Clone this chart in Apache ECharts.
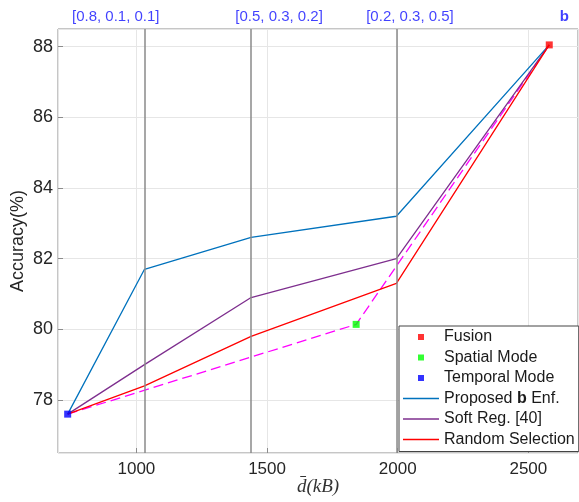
<!DOCTYPE html>
<html>
<head>
<meta charset="utf-8">
<style>
	html, body { margin: 0; padding: 0; background: #fff; }
	#main { width: 579px; height: 502px; }
</style>
<script src="https://cdn.jsdelivr.net/npm/echarts@6/dist/echarts.min.js"></script>
</head>
<body>
<div id="main"></div>
<script>
// x = mean size d(kB), y = accuracy(%)
var lineX = [737, 1031, 1439, 1995, 2580];
var proposedY = [77.6, 81.7, 82.6, 83.2, 88.05];
var softRegY = [77.6, 79.0, 80.9, 82.0, 88.05];
var randomY = [77.6, 78.4, 79.8, 81.3, 88.05];

var modeNames = ['Fusion', 'Spatial Mode', 'Temporal Mode'];
var modeX = [2580, 1841, 737];
var modeY = [88.05, 80.14, 77.6];
var modeColors = ['#ff0000', '#00ff00', '#0000ff'];

// dashed path temporal -> spatial -> fusion
var dashX = [737, 1841, 2580];
var dashY = [77.6, 80.14, 88.05];

var weightLineX = [1031, 1439, 1995];
var weightLabels = ['[0.8, 0.1, 0.1]', '[0.5, 0.3, 0.2]', '[0.2, 0.3, 0.5]', 'b'];
var weightLabelX = [921, 1546, 2047, 2638];

function pairs(xs, ys) {
	var arr = [];
	xs.forEach(function (x, i) {
		arr.push([x, ys[i]]);
	});
	return arr;
}

var font = 'Liberation Sans, Arial, Helvetica, sans-serif';
// legend icons: small square / thin line inside a 36x8 box
var sqIcon = 'path://M0,0M36,8M15,1h6v6h-6z';
var lnIcon = 'path://M0,0M36,8M0,3.35h36v1.3h-36z';

var series = [];

series.push({
	name: 'Proposed b Enf.',
	type: 'line',
	data: pairs(lineX, proposedY),
	symbol: 'none',
	lineStyle: { color: '#0072BD', width: 1.3 },
	itemStyle: { color: '#0072BD' },
	markLine: {
		silent: true,
		symbol: 'none',
		label: { show: false },
		lineStyle: { color: '#8a8a8a', width: 1.5, type: 'solid' },
		data: weightLineX.map(function (x) { return { xAxis: x }; })
	},
	z: 3
});
series.push({
	name: 'Soft Reg. [40]',
	type: 'line',
	data: pairs(lineX, softRegY),
	symbol: 'none',
	lineStyle: { color: '#7E2F8E', width: 1.3 },
	itemStyle: { color: '#7E2F8E' },
	z: 3
});
series.push({
	name: 'Random Selection',
	type: 'line',
	data: pairs(lineX, randomY),
	symbol: 'none',
	lineStyle: { color: '#ff0000', width: 1.3 },
	itemStyle: { color: '#ff0000' },
	z: 3
});
series.push({
	name: 'dash',
	type: 'line',
	data: pairs(dashX, dashY),
	symbol: 'none',
	lineStyle: { color: '#ff00ff', width: 1.3, type: [10, 5] },
	z: 2
});

modeNames.forEach(function (name, i) {
	series.push({
		name: name,
		type: 'scatter',
		data: [[modeX[i], modeY[i]]],
		symbol: 'rect',
		symbolSize: 7,
		itemStyle: { color: modeColors[i] },
		z: 5
	});
});

// weight labels above the plot
series.push({
	name: 'weights',
	type: 'scatter',
	symbolSize: 0,
	silent: true,
	data: weightLabelX.map(function (x, i) {
		return {
			value: [x, 88.5],
			label: {
				formatter: weightLabels[i],
				fontWeight: i == 3 ? 'bold' : 'normal'
			}
		};
	}),
	label: {
		show: true,
		position: 'top',
		distance: 5,
		color: '#1010ff',
		fontSize: 15,
		fontFamily: font
	},
	z: 6
});

var option = {
	animation: false,
	grid: {
		left: 58,
		right: 1,
		top: 29,
		bottom: 49,
		outerBoundsMode: 'none',
		show: true,
		borderColor: '#8c8c8c',
		borderWidth: 1,
		backgroundColor: '#fff'
	},
	legend: {
		orient: 'vertical',
		left: 399,
		top: 326,
		padding: [1, 4, 2, 4],
		itemWidth: 36,
		itemHeight: 8,
		itemGap: 0.5,
		itemTextGap: 3,
		backgroundColor: '#fff',
		borderColor: '#444',
		borderWidth: 1,
		borderRadius: 0,
		selectedMode: false,
		data: [
			{ name: 'Fusion', icon: sqIcon },
			{ name: 'Spatial Mode', icon: sqIcon },
			{ name: 'Temporal Mode', icon: sqIcon },
			{ name: 'Proposed b Enf.', icon: lnIcon },
			{ name: 'Soft Reg. [40]', icon: lnIcon },
			{ name: 'Random Selection', icon: lnIcon }
		],
		formatter: function (name) {
			if (name == 'Proposed b Enf.') {
				return '{n|Proposed }{b|b}{n| Enf.}';
			}
			return '{n|' + name + '}';
		},
		textStyle: {
			fontSize: 16,
			fontFamily: font,
			color: '#1a1a1a',
			lineHeight: 20,
			rich: {
				n: { fontSize: 16, fontFamily: font, color: '#1a1a1a', lineHeight: 20 },
				b: { fontSize: 16, fontFamily: font, color: '#1a1a1a', fontWeight: 'bold', lineHeight: 20 }
			}
		},
		z: 10
	},
	xAxis: {
		type: 'value',
		min: 700,
		max: 2690,
		splitNumber: 4,
		name: 'd\u0304(kB)',
		nameLocation: 'middle',
		nameGap: 24,
		nameMoveOverlap: false,
		nameTextStyle: {
			fontSize: 19,
			fontFamily: 'Liberation Serif, DejaVu Serif, serif',
			fontStyle: 'italic',
			color: '#333'
		},
		axisLine: { show: false },
		axisTick: { show: true, inside: true, length: 5, lineStyle: { color: '#8c8c8c' } },
		axisLabel: {
			showMinLabel: false,
			showMaxLabel: false,
			margin: 8,
			fontSize: 17,
			fontFamily: font,
			color: '#262626',
			formatter: function (v) { return String(v); }
		},
		splitLine: { show: true, lineStyle: { color: '#e6e6e6', width: 1 } }
	},
	yAxis: {
		type: 'value',
		min: 76.5,
		max: 88.5,
		splitNumber: 6,
		name: 'Accuracy(%)',
		nameLocation: 'middle',
		nameGap: 31,
		nameMoveOverlap: false,
		nameTextStyle: {
			fontSize: 18,
			fontFamily: font,
			color: '#262626'
		},
		axisLine: { show: false },
		axisTick: { show: true, inside: true, length: 5, lineStyle: { color: '#8c8c8c' } },
		axisLabel: {
			showMinLabel: false,
			showMaxLabel: false,
			margin: 5,
			fontSize: 18,
			fontFamily: font,
			color: '#262626'
		},
		splitLine: { show: true, lineStyle: { color: '#e6e6e6', width: 1 } }
	},
	series: series
};

var chart = echarts.init(document.getElementById('main'));
chart.setOption(option, true);
</script>
</body>
</html>
